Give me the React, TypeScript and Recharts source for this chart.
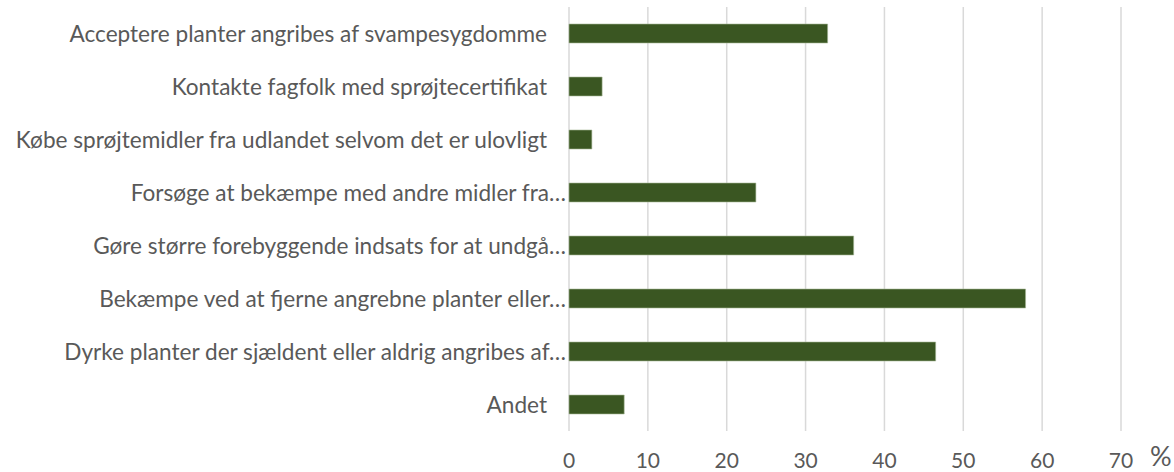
import React from 'react';
import { BarChart, Bar, XAxis, YAxis, CartesianGrid, Label } from 'recharts';

const categories = [
  'Acceptere planter angribes af svampesygdomme',
  'Kontakte fagfolk med sprøjtecertifikat',
  'Købe sprøjtemidler fra udlandet selvom det er ulovligt',
  'Forsøge at bekæmpe med andre midler fra…',
  'Gøre større forebyggende indsats for at undgå…',
  'Bekæmpe ved at fjerne angrebne planter eller…',
  'Dyrke planter der sjældent eller aldrig angribes af…',
  'Andet',
];
const values = [32.8, 4.2, 2.9, 23.7, 36.1, 57.9, 46.5, 7.0];
const xTicks = [0, 10, 20, 30, 40, 50, 60, 70];
const unitLabel = '%';

const data = categories.map((c, i) => ({ name: c, value: values[i] }));

const FONT = 'Lato, "Open Sans", sans-serif';
const TEXT = '#595959';

const CategoryTick = (props: any) => {
  const { x, y, payload } = props;
  const label: string = String(payload.value);
  const truncated = label.endsWith('…');
  return (
    <text
      x={x + (truncated ? 19 : 0)}
      y={y}
      dy="0.36em"
      textAnchor="end"
      fill={TEXT}
      fontSize={22.6}
      fontFamily={FONT}
    >
      {label}
    </text>
  );
};

export default function App() {
  return (
    <div style={{ position: 'absolute', left: 0, top: 0, width: 1174, height: 472, background: '#fff' }}>
      <BarChart
        width={1174}
        height={472}
        data={data}
        layout="vertical"
        margin={{ top: 7, right: 53, bottom: 0, left: 0 }}
        barSize={19}
      >
        <CartesianGrid horizontal={false} vertical={true} stroke="#d9d9d9" strokeWidth={1.5} />
        <XAxis
          type="number"
          domain={[0, 70]}
          ticks={xTicks}
          interval={0}
          axisLine={false}
          tickLine={false}
          tickSize={0}
          tickMargin={22}
          height={41}
          tick={{ fill: TEXT, fontSize: 21, fontFamily: FONT }}
        >
          <Label
            value={unitLabel}
            position="right"
            offset={29}
            dy={5}
            style={{ fill: TEXT, fontSize: 27, fontFamily: FONT }}
          />
        </XAxis>
        <YAxis
          type="category"
          dataKey="name"
          width={569}
          axisLine={false}
          tickLine={false}
          tickSize={0}
          tickMargin={22}
          interval={0}
          tick={<CategoryTick />}
        />
        <Bar dataKey="value" fill="#3a5622" stroke="#a8b898" strokeWidth={0.6} isAnimationActive={false} />
      </BarChart>
    </div>
  );
}
